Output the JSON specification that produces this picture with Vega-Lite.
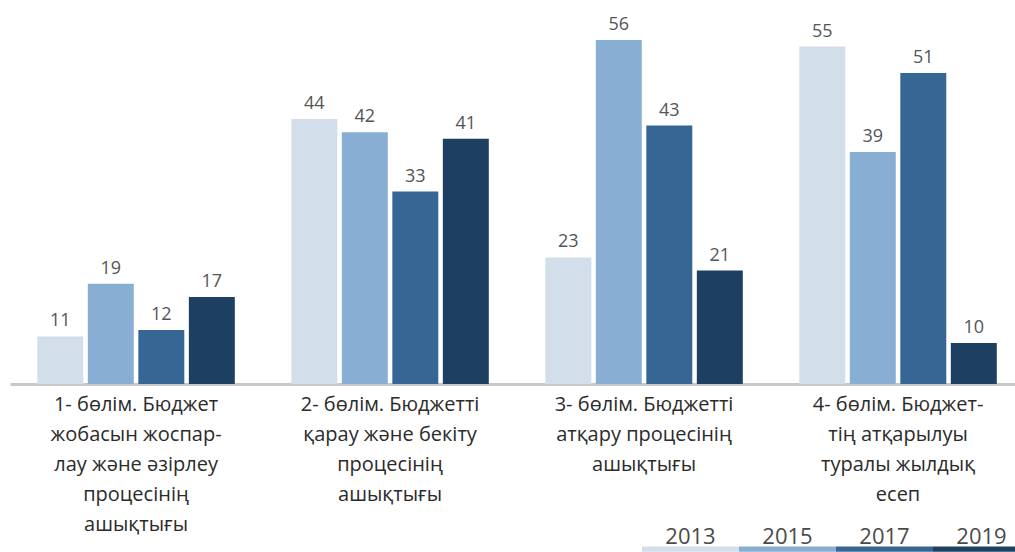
{
  "$schema": "https://vega.github.io/schema/vega-lite/v6.json",
  "width": 1005,
  "height": 384,
  "autosize": "none",
  "padding": {"left": 10, "top": 0, "right": 0, "bottom": 168},
  "background": "white",
  "config": {"view": {"stroke": null}},
  "data": {
    "values": [
      {"cat": "1- бөлім. Бюджет|жобасын жоспар-|лау және әзірлеу|процесінің|ашықтығы", "year": "2013", "value": 11},
      {"cat": "1- бөлім. Бюджет|жобасын жоспар-|лау және әзірлеу|процесінің|ашықтығы", "year": "2015", "value": 19},
      {"cat": "1- бөлім. Бюджет|жобасын жоспар-|лау және әзірлеу|процесінің|ашықтығы", "year": "2017", "value": 12},
      {"cat": "1- бөлім. Бюджет|жобасын жоспар-|лау және әзірлеу|процесінің|ашықтығы", "year": "2019", "value": 17},
      {"cat": "2- бөлім. Бюджетті|қарау және бекіту|процесінің|ашықтығы", "year": "2013", "value": 44},
      {"cat": "2- бөлім. Бюджетті|қарау және бекіту|процесінің|ашықтығы", "year": "2015", "value": 42},
      {"cat": "2- бөлім. Бюджетті|қарау және бекіту|процесінің|ашықтығы", "year": "2017", "value": 33},
      {"cat": "2- бөлім. Бюджетті|қарау және бекіту|процесінің|ашықтығы", "year": "2019", "value": 41},
      {"cat": "3- бөлім. Бюджетті|атқару процесінің|ашықтығы", "year": "2013", "value": 23},
      {"cat": "3- бөлім. Бюджетті|атқару процесінің|ашықтығы", "year": "2015", "value": 56},
      {"cat": "3- бөлім. Бюджетті|атқару процесінің|ашықтығы", "year": "2017", "value": 43},
      {"cat": "3- бөлім. Бюджетті|атқару процесінің|ашықтығы", "year": "2019", "value": 21},
      {"cat": "4- бөлім. Бюджет-|тің атқарылуы|туралы жылдық|есеп", "year": "2013", "value": 55},
      {"cat": "4- бөлім. Бюджет-|тің атқарылуы|туралы жылдық|есеп", "year": "2015", "value": 39},
      {"cat": "4- бөлім. Бюджет-|тің атқарылуы|туралы жылдық|есеп", "year": "2017", "value": 51},
      {"cat": "4- бөлім. Бюджет-|тің атқарылуы|туралы жылдық|есеп", "year": "2019", "value": 10}
    ]
  },
  "encoding": {
    "x": {
      "field": "cat", "type": "nominal", "sort": null, "title": null,
      "scale": {"paddingInner": 0.2224, "paddingOuter": 0.0896, "align": 0.6},
      "axis": {
        "labelAngle": 0, "ticks": false, "domainColor": "#c8c8c8", "domainWidth": 3,
        "labelExpr": "split(datum.label, '|')", "labelLineHeight": 30,
        "labelFont": "Open Sans", "labelFontSize": 20, "labelColor": "#2b2b2b",
        "labelBaseline": "top", "labelPadding": 10, "labelLimit": 0
      }
    },
    "xOffset": {"field": "year", "type": "nominal", "scale": {"paddingInner": 0.09, "paddingOuter": 0}},
    "y": {"field": "value", "type": "quantitative", "scale": {"domain": [3.79, 62.06], "zero": false, "nice": false}, "axis": null}
  },
  "layer": [
    {
      "mark": {"type": "bar"},
      "encoding": {
        "y2": {"datum": 3.79},
        "color": {
          "field": "year", "type": "nominal",
          "scale": {"domain": ["2013", "2015", "2017", "2019"], "range": ["#d2dee9", "#89aed3", "#366794", "#1d4062"]},
          "legend": {
            "orient": "none", "legendX": 632, "legendY": 488, "direction": "horizontal", "columns": 4,
            "title": null, "symbolType": "M-1,0.2H1V0.31H-1Z", "symbolSize": 9409, "symbolStrokeWidth": 0,
            "symbolOpacity": 1, "labelOffset": -48.5, "labelAlign": "center", "columnPadding": 0,
            "labelFont": "Open Sans", "labelFontSize": 22, "labelColor": "#4a4a4a"
          }
        }
      }
    },
    {
      "mark": {"type": "text", "baseline": "bottom", "dy": -6, "font": "Open Sans", "fontSize": 18, "color": "#555555"},
      "encoding": {"text": {"field": "value", "type": "quantitative"}}
    }
  ]
}
